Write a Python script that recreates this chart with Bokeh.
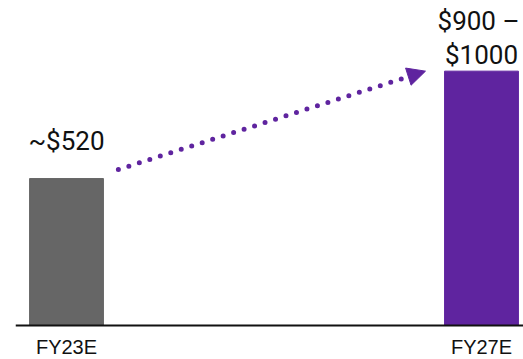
from bokeh.plotting import figure
from bokeh.models import Range1d, Arrow, NormalHead, ColumnDataSource, Span
from bokeh.core.properties import value
from bokeh.embed import file_html
from bokeh.resources import INLINE

# Revenue outlook, two fiscal-year estimates
categories = ["FY23E", "FY27E"]
bar_values = [520, 900]          # FY27E bar drawn at the low end of its range
range_high = [None, 1000]
bar_colors = ["#666666", "#5f249f"]
label_first = ["~$520", "$900 \u2013"]
label_second = ["", "$1000"]

xs = list(range(len(categories)))
BAR_W = 0.178
PURPLE = bar_colors[1]
TEXT = "#111111"

# y scale: about 0.2826 px per unit, baseline 34 px above the bottom edge
p = figure(
    width=523, height=359,
    x_range=Range1d(-0.1229, 1.1012),
    y_range=Range1d(-120.3, 1150),
    output_backend="svg", toolbar_location=None,
    x_axis_location=None, y_axis_location=None,
    min_border_left=15, min_border_right=0, min_border_top=0, min_border_bottom=0,
)
p.outline_line_color = None
p.grid.visible = False
p.background_fill_color = "white"
p.border_fill_color = "white"

src = ColumnDataSource(dict(x=xs, top=bar_values, color=bar_colors))
p.vbar(x="x", top="top", width=BAR_W, bottom=0, color="color", source=src)

# baseline
p.add_layout(Span(location=0, dimension="width", line_color=TEXT, line_width=2))

# category labels under the baseline
p.text(x=xs, y=[0, 0], text=categories, text_align="center",
       text_baseline="alphabetic", y_offset=21,
       text_font=value("Liberation Sans"), text_font_size="20px", text_color=TEXT)

# value labels above the bars
vfont = dict(text_align="center", text_baseline="alphabetic",
             text_font=value("Roboto"), text_font_size="26px", text_color=TEXT)
p.text(x=[xs[0]], y=[bar_values[0]], text=[label_first[0]], y_offset=-38, **vfont)
p.text(x=[xs[1]], y=[bar_values[1]], text=[label_first[1]], y_offset=-50, x_offset=-3, **vfont)
p.text(x=[xs[1]], y=[bar_values[1]], text=[label_second[1]], y_offset=-16, **vfont)

# dotted growth arrow between the bars
arrow = Arrow(
    x_start=xs[0] + BAR_W / 2 + 0.036, y_start=bar_values[0] + 32,
    x_end=xs[1] - BAR_W / 2 - 0.046, y_end=bar_values[1],
    line_color=PURPLE, line_width=5, line_dash="0 11", line_cap="round",
    end=NormalHead(size=18, fill_color=PURPLE, line_color=PURPLE, line_width=1),
)
p.add_layout(arrow)

open("out.html", "w").write(file_html(p, INLINE))
